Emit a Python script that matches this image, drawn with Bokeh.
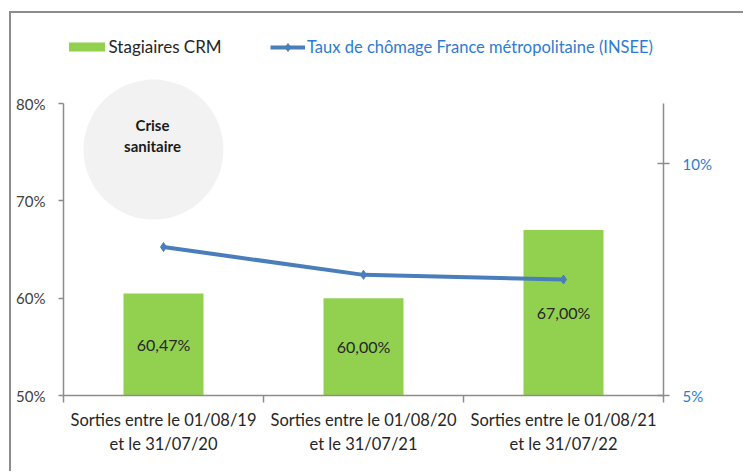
from bokeh.plotting import figure
from bokeh.models import (Range1d, LinearAxis, FixedTicker, PrintfTickFormatter,
                          Legend, LegendItem, ColumnDataSource)
from bokeh.core.properties import value
from bokeh.embed import file_html
from bokeh.resources import INLINE

categories = ["Sorties entre le 01/08/19\net le 31/07/20",
              "Sorties entre le 01/08/20\net le 31/07/21",
              "Sorties entre le 01/08/21\net le 31/07/22"]
stagiaires = [60.47, 60.00, 67.00]
stagiaires_labels = ["60,47%", "60,00%", "67,00%"]
chomage = [8.2, 7.6, 7.5]
left_ticks = [50, 60, 70, 80]
right_ticks = [5, 10]

FONT = "Lato"
GREEN = "#92d050"
BLUE_LINE = "#4a7ebb"
BLUE_TEXT = "#2e7bcf"
AXIS = "#8c8c8c"
TEXT = "#404040"

# layout (pixels)
W, H = 734, 460
ML, MR, MT, MB = 52, 82, 0, 78
FRAME_H = H - MT - MB
PX_LEFT = 292 / 30.0      # px per left-axis unit
PX_RIGHT = 232 / 5.0      # px per right-axis unit

xs = [i + 0.5 for i in range(len(categories))]
src = ColumnDataSource(dict(
    x=xs, y=stagiaires, lab=stagiaires_labels,
    ymid=[(50 + v) / 2 for v in stagiaires], rate=chomage))

p = figure(width=W, height=H, output_backend="svg", toolbar_location=None,
           title=None,
           x_range=Range1d(0, len(categories)),
           y_range=Range1d(50, 50 + FRAME_H / PX_LEFT),
           min_border_left=ML, min_border_right=MR, min_border_top=MT,
           min_border_bottom=MB)
p.styles = {"border-left": "2px solid #8c8c8c", "border-top": "2px solid #8c8c8c",
            "margin-left": "9px", "margin-top": "11px"}
p.outline_line_color = None
p.xgrid.visible = False
p.ygrid.visible = False
p.background_fill_color = "white"
p.border_fill_color = "white"

p.extra_y_ranges = {"right": Range1d(5, 5 + FRAME_H / PX_RIGHT)}

# circle annotation
p.scatter(x=[0.45], y=[75.27], size=140, marker="circle",
          fill_color="#f2f2f2", line_color=None)
p.text(x=[0.445], y=[76.7], text=["Crise\nsanitaire"], text_align="center",
       text_baseline="middle", text_font=value(FONT), text_font_style="bold",
       text_font_size="15px", text_color="#1a1a1a", text_line_height=1.2)

bars = p.vbar(x="x", top="y", bottom=50, width=0.4, source=src,
              fill_color=GREEN, line_color=None)
p.text(x="x", y="ymid", text="lab", source=src, text_align="center",
       text_baseline="middle", text_font=value(FONT), text_font_size="16px",
       text_color="#262626")

ln = p.line(x="x", y="rate", source=src, y_range_name="right",
            line_color=BLUE_LINE, line_width=4)
mk = p.scatter(x="x", y="rate", source=src, y_range_name="right",
               marker="diamond", size=9, fill_color=BLUE_LINE, line_color=BLUE_LINE)

# x axis
xa = p.xaxis[0]
xa.ticker = FixedTicker(ticks=xs, minor_ticks=list(range(len(categories) + 1)))
xa.major_label_overrides = {x: c for x, c in zip(xs, categories)}
xa.major_tick_out = 0
xa.major_tick_in = 0
xa.minor_tick_out = 7
xa.minor_tick_in = 0
xa.minor_tick_line_color = AXIS
xa.minor_tick_line_width = 1.5
xa.axis_line_color = AXIS
xa.axis_line_width = 1.5
xa.major_label_text_font = FONT
xa.major_label_text_font_size = "16.5px"
xa.major_label_text_color = "#262626"
xa.major_label_text_line_height = 1.2
xa.major_label_standoff = 7

# left axis
ya = p.yaxis[0]
ya.bounds = (50, 80)
ya.ticker = FixedTicker(ticks=left_ticks)
ya.formatter = PrintfTickFormatter(format="%d%%")
ya.major_tick_out = 5
ya.major_tick_in = 0
ya.minor_tick_out = 0
ya.minor_tick_in = 0
ya.major_tick_line_color = AXIS
ya.major_tick_line_width = 1.5
ya.axis_line_color = AXIS
ya.axis_line_width = 1.5
ya.major_label_text_font = FONT
ya.major_label_text_font_size = "15px"
ya.major_label_text_color = TEXT
ya.major_label_standoff = 13

# right axis
ra = LinearAxis(y_range_name="right", ticker=FixedTicker(ticks=right_ticks),
                formatter=PrintfTickFormatter(format="%d%%"))
ra.bounds = (5, 5 + 292 / PX_RIGHT)
ra.major_tick_out = 6
ra.major_tick_in = 6
ra.minor_tick_out = 0
ra.minor_tick_in = 0
ra.major_tick_line_color = AXIS
ra.major_tick_line_width = 1.5
ra.axis_line_color = AXIS
ra.axis_line_width = 1.5
ra.major_label_text_font = FONT
ra.major_label_text_font_size = "15px"
ra.major_label_text_color = BLUE_TEXT
ra.major_label_standoff = 13
p.add_layout(ra, "right")

# legends
leg1 = Legend(items=[LegendItem(label="Stagiaires CRM", renderers=[bars])],
              location=(0.5, 338), orientation="horizontal", padding=0, margin=0,
              glyph_width=45, glyph_height=11, label_standoff=0,
              label_text_font=FONT, label_text_font_size="17px",
              label_text_color="#262626", border_line_alpha=0,
              background_fill_alpha=0)
leg2 = Legend(items=[LegendItem(label="Taux de chômage France métropolitaine (INSEE)",
                                renderers=[ln, mk])],
              location=(207, 338), orientation="horizontal", padding=0, margin=0,
              glyph_width=35, glyph_height=20, label_standoff=2,
              label_text_font=FONT, label_text_font_size="16.5px",
              label_text_color=BLUE_TEXT, border_line_alpha=0,
              background_fill_alpha=0)
p.add_layout(leg1, "center")
p.add_layout(leg2, "center")

open("out.html", "w").write(file_html(p, INLINE))
